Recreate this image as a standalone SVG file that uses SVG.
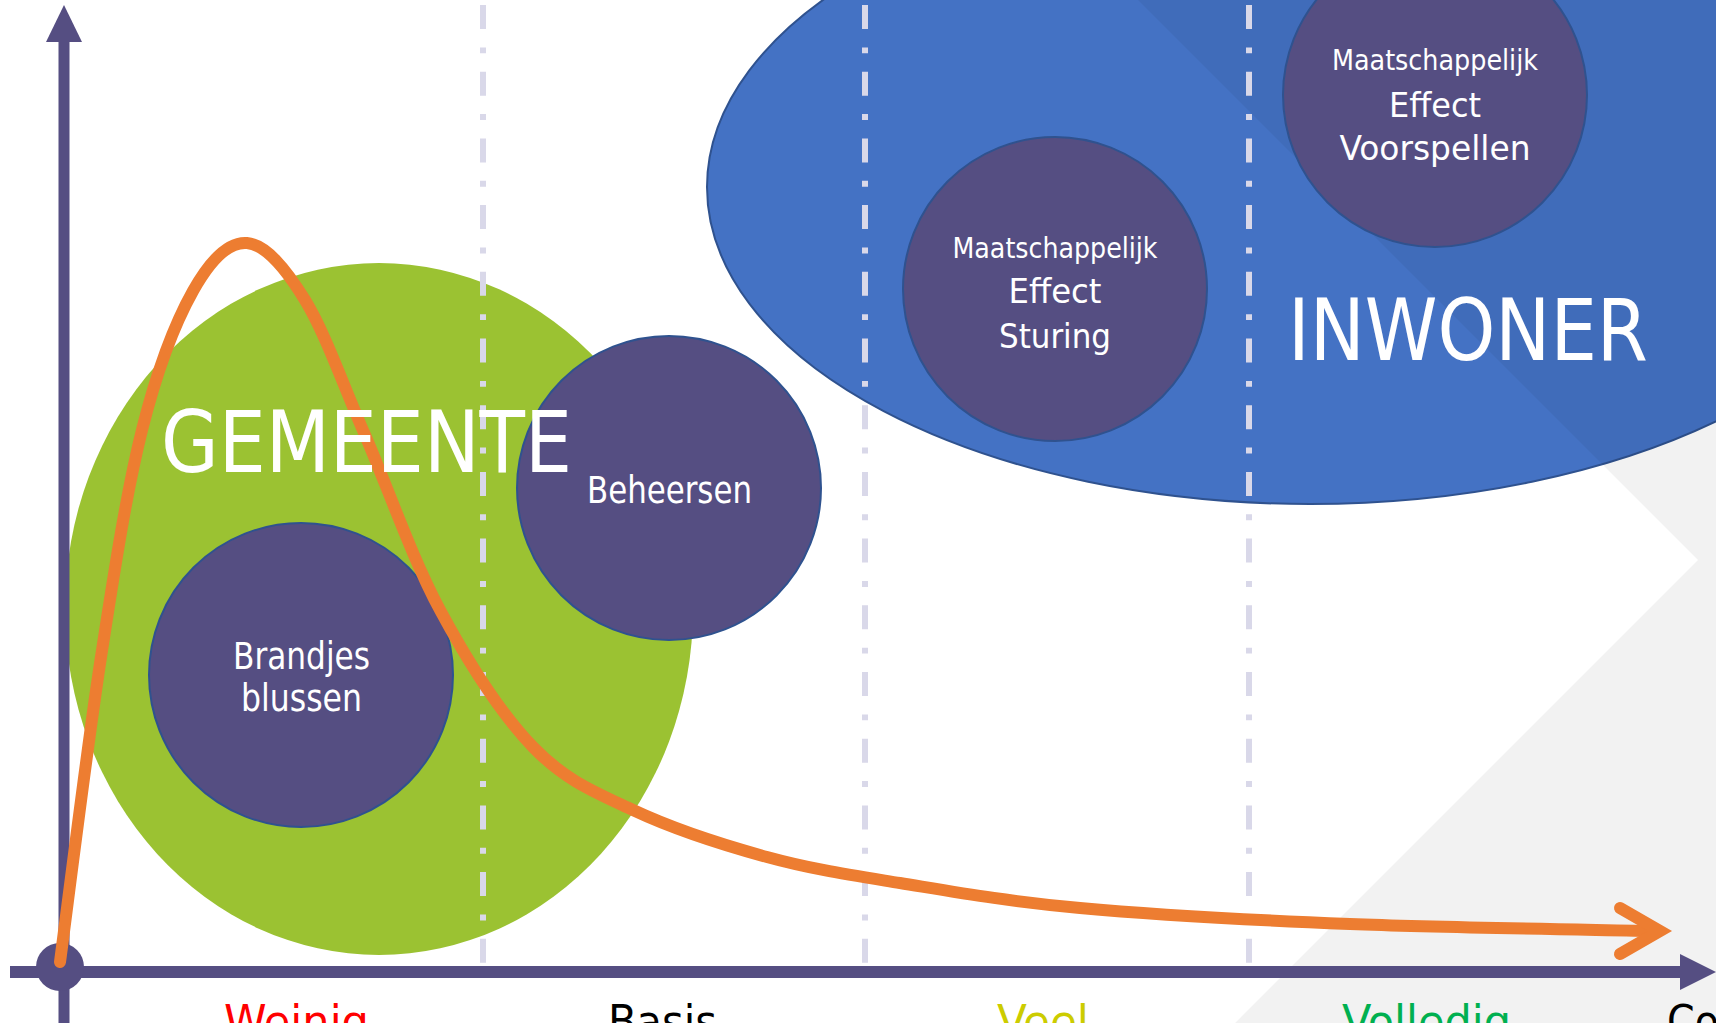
<svg xmlns="http://www.w3.org/2000/svg" width="1716" height="1023" viewBox="0 0 1716 1023">
<defs>
<style>
.node{fill:#554E82;stroke:#2F528F;stroke-width:2}
.t{font-family:"DejaVu Sans Condensed","DejaVu Sans","Liberation Sans",sans-serif;fill:#fff;text-anchor:middle}
.big{font-family:"DejaVu Sans","Liberation Sans",sans-serif;fill:#fff;font-size:86px}
.lab{font-family:"DejaVu Sans Condensed","DejaVu Sans","Liberation Sans",sans-serif;font-size:44px}
.dash{stroke:#D9D8E9;stroke-width:6;stroke-dasharray:24 18.4 5.9 18.4;fill:none}
.axis{stroke:#554E82;fill:none}
</style>
</defs>
<rect width="1716" height="1023" fill="#fff"/>
<g id="inwoner">
<ellipse cx="1310" cy="187" rx="603" ry="317" fill="#4472C4" stroke="#2F528F" stroke-width="2"/>
</g>
<polygon id="backdrop" points="1138,0 1716,0 1716,1023 1235,1023 1698,560" fill="#000" fill-opacity="0.05"/>
<g id="gemeente">
<ellipse cx="379" cy="609" rx="314" ry="346" fill="#9BC232"/>
</g>
<g id="brandjes">
<circle class="node" cx="301" cy="675" r="152"/>
</g>
<g id="beheersen">
<circle class="node" cx="669" cy="488" r="152"/>
</g>
<g id="sturing">
<circle class="node" cx="1055" cy="289" r="152"/>
</g>
<g id="voorspellen">
<circle class="node" cx="1435" cy="95" r="152"/>
</g>
<g id="dividers">
<line class="dash" x1="483" y1="5" x2="483" y2="963"/>
<line class="dash" x1="865" y1="5" x2="865" y2="963"/>
<line class="dash" x1="1249" y1="5" x2="1249" y2="963"/>
</g>
<g id="connectors">
<line class="axis" x1="64" y1="40" x2="64" y2="1023" stroke-width="11"/>
<polygon points="64,5 46,42 82,42" fill="#554E82"/>
<line class="axis" x1="10" y1="972" x2="1684" y2="972" stroke-width="12"/>
<polygon points="1680,954 1716,972 1680,990" fill="#554E82"/>
<circle cx="60" cy="967" r="24" fill="#554E82"/>
<path d="M60,962 C66.83,911.17 87.33,745.67 101,657 C114.67,568.33 126.67,491 142,430 C157.33,369 175.5,322.17 193,291 C210.5,259.83 228.33,241.5 247,243 C265.67,244.5 285.33,268 305,300 C324.67,332 342.5,383.33 365,435 C387.5,486.67 412,558 440,610 C468,662 500.83,713.67 533,747 C565.17,780.33 594,791.67 633,810 C672,828.33 722.5,844.83 767,857 C811.5,869.17 847.83,874.5 900,883 C952.17,891.5 1005,901.17 1080,908 C1155,914.83 1254,920.17 1350,924 C1446,927.83 1605,929.83 1656,931" fill="none" stroke="#ED7D31" stroke-width="12" stroke-linecap="round"/>
<path d="M1620,908 L1660,931 L1620,954" fill="none" stroke="#ED7D31" stroke-width="12" stroke-linecap="round" stroke-linejoin="miter"/>
</g>
<g id="labels">
<text class="big" x="161" y="472" textLength="411" lengthAdjust="spacingAndGlyphs">GEMEENTE</text>
<text class="big" x="1288" y="360" textLength="360" lengthAdjust="spacingAndGlyphs">INWONER</text>
<text class="t" x="669.5" y="503" font-size="37" textLength="165" lengthAdjust="spacingAndGlyphs">Beheersen</text>
<text class="t" x="301.5" y="669" font-size="37" textLength="137" lengthAdjust="spacingAndGlyphs">Brandjes</text>
<text class="t" x="301.5" y="711" font-size="37" textLength="121" lengthAdjust="spacingAndGlyphs">blussen</text>
<text class="t" x="1055" y="258" font-size="29" textLength="205" lengthAdjust="spacingAndGlyphs">Maatschappelijk</text>
<text class="t" x="1055" y="303" font-size="34" textLength="93" lengthAdjust="spacingAndGlyphs">Effect</text>
<text class="t" x="1055" y="348" font-size="34" textLength="112" lengthAdjust="spacingAndGlyphs">Sturing</text>
<text class="t" x="1435" y="70" font-size="29" textLength="206" lengthAdjust="spacingAndGlyphs">Maatschappelijk</text>
<text class="t" x="1435" y="117" font-size="34" textLength="92" lengthAdjust="spacingAndGlyphs">Effect</text>
<text class="t" x="1435" y="160" font-size="34" textLength="191" lengthAdjust="spacingAndGlyphs">Voorspellen</text>
<text class="lab" x="224" y="1037" fill="#FF0000" textLength="145" lengthAdjust="spacingAndGlyphs">Weinig</text>
<text class="lab" x="608" y="1037" fill="#000" textLength="109" lengthAdjust="spacingAndGlyphs">Basis</text>
<text class="lab" x="997" y="1037" fill="#CCCC00" textLength="92" lengthAdjust="spacingAndGlyphs">Veel</text>
<text class="lab" x="1342" y="1037" fill="#00B050" textLength="169" lengthAdjust="spacingAndGlyphs">Volledig</text>
<text class="lab" x="1667" y="1037" fill="#000">Co</text>
</g>
</svg>
